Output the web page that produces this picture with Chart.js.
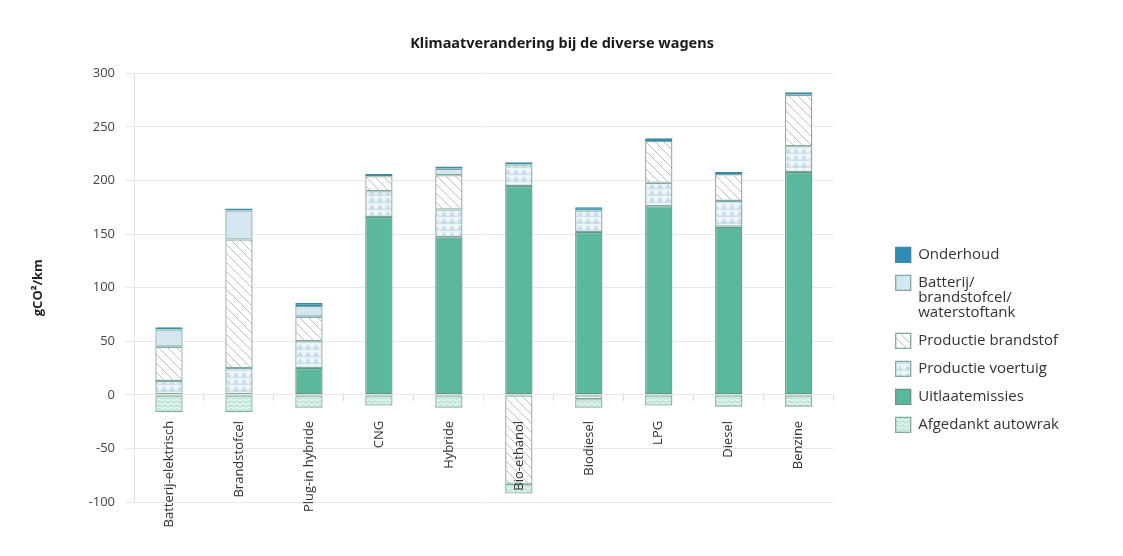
<!DOCTYPE html>
<html>
<head>
<meta charset="utf-8">
<script src="https://cdn.jsdelivr.net/npm/chart.js@4"></script>
<style>
  body { margin: 0; background: #fff; }
  #wrap { width: 1123px; height: 556px; position: relative; }
</style>
</head>
<body>
<div id="wrap"><canvas id="barChart"></canvas></div>
<script>
const labels = [
    'Batterij-elektrisch',
    'Brandstofcel',
    'Plug-in hybride',
    'CNG',
    'Hybride',
    'Bio-ethanol',
    'Biodiesel',
    'LPG',
    'Diesel',
    'Benzine',
];

// gCO2/km per onderdeel (null = geen bijdrage)
const uitlaatemissies = [null, null, 25, 166, 147, 195, 152, 176, 157, 208];
const productieVoertuig = [13, 25, 25, 24, 26, 20, 20, 22, 24, 24];
const productieBrandstof = [32, 120, 23, 14, 32, -83, -4, 39, 25, 48];
const batterij = [16, 27, 10, null, 6, null, null, null, null, null];
const onderhoud = [2, 2, 3, 2, 2, 2, 3, 2.5, 2, 2.5];
const afgedankt = [-16, -16, -12, -10, -12, -9, -8, -10, -11, -11];

const yTicks = [-100, -50, 0, 50, 100, 150, 200, 250, 300];

// patronen
function makePattern(w, h, draw) {
  const c = document.createElement('canvas');
  c.width = w;
  c.height = h;
  const g = c.getContext('2d');
  draw(g, w, h);
  return g.createPattern(c, 'repeat');
}

const hatch = makePattern(9, 9, (g, w, h) => {
  g.fillStyle = '#ffffff';
  g.fillRect(0, 0, w, h);
  g.strokeStyle = '#bdbdbd';
  g.lineWidth = 1;
  g.beginPath();
  g.moveTo(-1, -1); g.lineTo(w + 1, h + 1);
  g.moveTo(-1, h - 1); g.lineTo(1, h + 1);
  g.moveTo(w - 1, -1); g.lineTo(w + 1, 1);
  g.stroke();
});

const triangles = makePattern(8, 7, (g, w, h) => {
  g.fillStyle = '#eef5f9';
  g.fillRect(0, 0, w, h);
  g.fillStyle = '#c9deea';
  g.beginPath();
  g.moveTo(0, h); g.lineTo(w / 2, 1); g.lineTo(w, h);
  g.closePath();
  g.fill();
});

const zigzag = makePattern(6, 4, (g, w, h) => {
  g.fillStyle = '#dcf2ea';
  g.fillRect(0, 0, w, h);
  g.strokeStyle = '#a9dcc8';
  g.lineWidth = 1;
  g.beginPath();
  g.moveTo(0, 3); g.lineTo(3, 1); g.lineTo(6, 3);
  g.stroke();
});

const legendRank = [4, 3, 2, 1, 0, 5];

var ctx = document.getElementById('barChart');

if (ctx) {
  var barChart = new Chart(ctx, {
    type: 'bar',
    data: {
      labels: labels,
      datasets: [
        {
          label: 'Uitlaatemissies',
          data: uitlaatemissies,
          backgroundColor: '#5bb89e',
          borderColor: '#5f9487',
        },
        {
          label: 'Productie voertuig',
          data: productieVoertuig,
          backgroundColor: triangles,
          borderColor: '#7fa89e',
        },
        {
          label: 'Productie brandstof',
          data: productieBrandstof,
          backgroundColor: hatch,
          borderColor: '#7fa89e',
        },
        {
          label: ['Batterij/', 'brandstofcel/', 'waterstoftank'],
          data: batterij,
          backgroundColor: '#d4e6ef',
          borderColor: '#7fa89e',
        },
        {
          label: 'Onderhoud',
          data: onderhoud,
          backgroundColor: '#2f8bb0',
          borderColor: '#3a8aa5',
        },
        {
          label: 'Afgedankt autowrak',
          data: afgedankt,
          backgroundColor: zigzag,
          borderColor: '#7fa89e',
        },
      ],
    },
    options: {
      responsive: true,
      maintainAspectRatio: false,
      animation: false,
      layout: {
        padding: { top: 25, left: 25, right: 54, bottom: 54 }
      },
      datasets: {
        bar: {
          borderWidth: 1.3,
          borderSkipped: false,
          categoryPercentage: 1,
          barPercentage: 0.39,
        }
      },
      scales: {
        x: {
          stacked: true,
          position: { y: 0 },
          grid: {
            display: true,
            drawOnChartArea: false,
            drawTicks: true,
            tickLength: 6,
            color: '#dddddd',
          },
          border: { display: false },
          ticks: {
            z: 1,
            minRotation: 90,
            maxRotation: 90,
            autoSkip: false,
            padding: 20,
            color: '#333333',
            font: { family: 'Open Sans', size: 13 },
          },
        },
        y: {
          stacked: true,
          min: -100,
          max: 300,
          afterBuildTicks: (scale) => {
            scale.ticks = yTicks.map(v => ({ value: v }));
          },
          afterFit: (scale) => {
            scale.width = 109;
          },
          grid: {
            color: '#e8e8e8',
            tickLength: 9,
          },
          border: { color: '#e2e2e2' },
          ticks: {
            padding: 10,
            color: '#444444',
            font: { family: 'Open Sans', size: 13 },
          },
          title: {
            display: true,
            text: 'gCO²/km',
            color: '#222222',
            padding: { top: 5, bottom: 0 },
            font: { family: 'Open Sans', size: 13, weight: 'bold' },
          },
        },
        spacer: {
          type: 'linear',
          position: 'right',
          display: true,
          grid: { display: false },
          border: { display: false },
          ticks: { display: false },
          afterFit: (scale) => {
            scale.width = 49;
          },
        },
      },
      plugins: {
        title: {
          display: true,
          text: '        Klimaatverandering bij de diverse wagens',
          color: '#1a1a1a',
          padding: { top: 10, bottom: 21 },
          font: { family: 'Noto Sans', size: 14.5, weight: 'bold' },
        },
        legend: {
          position: 'right',
          align: 'start',
          maxWidth: 400,
          title: {
            display: true,
            text: ' ',
            padding: { top: 0, bottom: 195 },
            font: { size: 12 },
          },
          labels: {
            boxWidth: 15,
            boxHeight: 15,
            padding: 13,
            color: '#333333',
            font: { family: 'Open Sans', size: 15, lineHeight: 1.0 },
            sort: (a, b) => legendRank[a.datasetIndex] - legendRank[b.datasetIndex],
          },
        },
        tooltip: { enabled: false },
      },
    },
  });
}
</script>
</body>
</html>
